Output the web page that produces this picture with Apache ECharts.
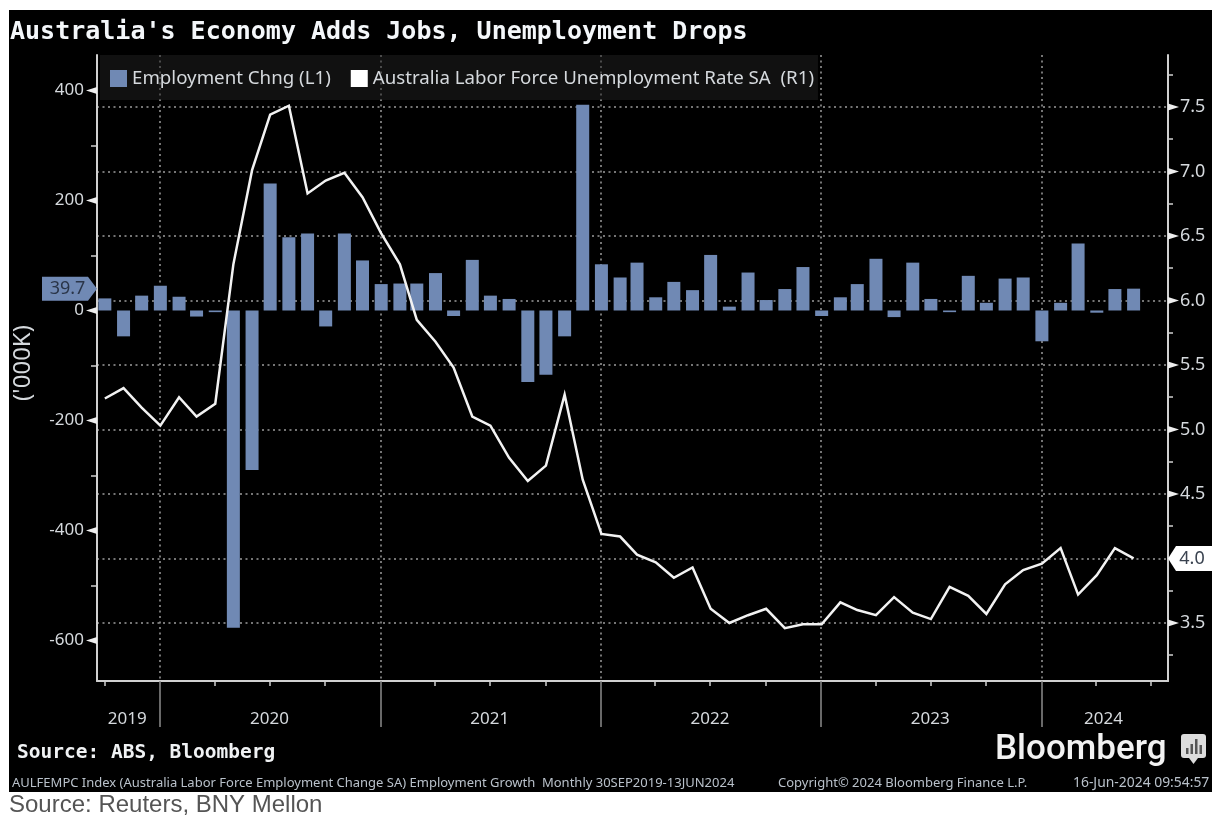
<!DOCTYPE html>
<html>
<head>
<meta charset="utf-8">
<style>html,body{margin:0;padding:0;background:#fff}#chart{width:1212px;height:817px}</style>
<script src="https://cdn.jsdelivr.net/npm/echarts@6/dist/echarts.min.js"></script>
</head>
<body>
<div id="chart"></div>
<script>
// Month-end observation dates, Sep 2019 to May 2024
const months = [
  '2019-09-30','2019-10-31','2019-11-30','2019-12-31',
  '2020-01-31','2020-02-29','2020-03-31','2020-04-30','2020-05-31','2020-06-30','2020-07-31','2020-08-31','2020-09-30','2020-10-31','2020-11-30','2020-12-31',
  '2021-01-31','2021-02-28','2021-03-31','2021-04-30','2021-05-31','2021-06-30','2021-07-31','2021-08-31','2021-09-30','2021-10-31','2021-11-30','2021-12-31',
  '2022-01-31','2022-02-28','2022-03-31','2022-04-30','2022-05-31','2022-06-30','2022-07-31','2022-08-31','2022-09-30','2022-10-31','2022-11-30','2022-12-31',
  '2023-01-31','2023-02-28','2023-03-31','2023-04-30','2023-05-31','2023-06-30','2023-07-31','2023-08-31','2023-09-30','2023-10-31','2023-11-30','2023-12-31',
  '2024-01-31','2024-02-29','2024-03-31','2024-04-30','2024-05-31'
];
// Monthly employment change, thousands
const employmentChange = [
  22,-47,27,45,
  25,-11,-3,-577,-290,231,133,140,-29,140,91,48,
  49,49,68,-10,92,27,21,-130,-117,-47,374,84,
  60,87,24,52,37,101,7,69,19,39,79,-10,
  24,48,94,-12,87,21,-3,63,14,58,60,-56,
  14,122,-4,39,39.7
];
// Unemployment rate, percent
const unemploymentRate = [
  5.24,5.32,5.17,5.03,
  5.25,5.10,5.20,6.28,7.01,7.44,7.51,6.83,6.93,6.99,6.80,6.52,
  6.28,5.85,5.68,5.48,5.10,5.03,4.78,4.60,4.72,5.27,4.61,4.19,
  4.17,4.03,3.97,3.85,3.93,3.61,3.50,3.56,3.61,3.46,3.49,3.49,
  3.66,3.60,3.56,3.70,3.58,3.53,3.78,3.71,3.57,3.80,3.91,3.96,
  4.08,3.72,3.87,4.08,4.00
];

// Axis ranges and ticks
const timeMin = '2019-09-17';
const timeMax = '2024-07-27';
const leftMin = -673.6, leftMax = 464.5;
const rightMin = 3.05, rightMax = 7.903;
const leftMajor = [-600,-400,-200,0,200,400];
const leftMinor = [-500,-300,-100,100,300];
const rightMajor = [3.5,4.0,4.5,5.0,5.5,6.0,6.5,7.0,7.5];
const rightLabels = [3.5,4.5,5.0,5.5,6.0,6.5,7.0,7.5];
const rightMinor = [3.25,3.75,4.25,4.75,5.25,5.75,6.25,6.75,7.25,7.75];
const yearBreaks = ['2019-12-30','2020-12-30','2021-12-30','2022-12-30','2023-12-30'];
const yearLabelDates = ['2019-11-06','2020-06-29','2021-06-29','2022-06-29','2023-06-29','2024-04-11'];
const quarterTicks = [
  '2019-09-30','2020-03-30','2020-06-29','2020-09-29','2021-03-30','2021-06-29','2021-09-29',
  '2022-03-30','2022-06-29','2022-09-29','2023-03-30','2023-06-29','2023-09-29','2024-03-30','2024-06-29'
];

// Text
const barName = 'Employment Chng (L1)';
const lineName = 'Australia Labor Force Unemployment Rate SA  (R1)';

const BAR = '#7089b4', AXIS = '#d0d0d0', LABEL = '#d5d9dd', GRID = '#9c9c9c';
const LABEL_FONT = '"Noto Sans"', FIXED_FONT = '"DejaVu Sans Mono"';

// The horizontal scale is a plain numeric one holding epoch milliseconds
const ts = d => new Date(d + 'T00:00:00Z').getTime();
const lastBar = employmentChange[employmentChange.length - 1];
const lastRate = unemploymentRate[unemploymentRate.length - 1];

function textTitle(text, left, top, style) {
  return { text, left, top, padding: 0, textStyle: style };
}
const footerStyle = { color: '#b9c1ca', fontFamily: LABEL_FONT, fontWeight: 'normal', fontSize: 13, lineHeight: 14 };

const option = {
  animation: false,
  backgroundColor: '#ffffff',
  title: [
    textTitle("Australia's Economy Adds Jobs, Unemployment Drops", 10, 18,
      { color: '#f4f7fa', fontFamily: FIXED_FONT, fontWeight: 'bold', fontSize: 25, lineHeight: 28 }),
    textTitle('Source: ABS, Bloomberg', 17, 742,
      { color: '#f0f2f4', fontFamily: FIXED_FONT, fontWeight: 'bold', fontSize: 19.5, lineHeight: 22 }),
    textTitle('AULFEMPC Index (Australia Labor Force Employment Change SA) Employment Growth  Monthly 30SEP2019-13JUN2024', 12, 776, footerStyle),
    textTitle('Copyright\u00a9 2024 Bloomberg Finance L.P.', 778, 776, footerStyle),
    textTitle('16-Jun-2024 09:54:57', 1073, 776, Object.assign({}, footerStyle, { fontSize: 13.9 })),
    textTitle('Source: Reuters, BNY Mellon', 9, 793,
      { color: '#555555', fontFamily: '"Liberation Sans"', fontWeight: 'normal', fontSize: 24, lineHeight: 25 }),
    textTitle('Bloomberg', 995, 730,
      { color: '#f2f2f2', fontFamily: 'Roboto', fontWeight: 500, fontSize: 35, lineHeight: 40 })
  ],
  graphic: [
    { type: 'rect', z: -10, silent: true, shape: { x: 9, y: 10, width: 1203, height: 782 }, style: { fill: '#000' } },
    { type: 'group', left: 1181, top: 734, z: 5, silent: true, children: [
      { type: 'rect', shape: { x: 0, y: 0, width: 25, height: 24, r: 3 }, style: { fill: '#dcdcdc' } },
      { type: 'polygon', shape: { points: [[8, 24], [17, 24], [12.5, 30]] }, style: { fill: '#dcdcdc' } },
      { type: 'rect', shape: { x: 5, y: 14, width: 2.5, height: 6 }, style: { fill: '#555' } },
      { type: 'rect', shape: { x: 9.5, y: 10, width: 2.5, height: 10 }, style: { fill: '#555' } },
      { type: 'rect', shape: { x: 14, y: 5, width: 2.5, height: 15 }, style: { fill: '#555' } },
      { type: 'rect', shape: { x: 18.5, y: 11, width: 2.5, height: 9 }, style: { fill: '#555' } }
    ] }
  ],
  legend: {
    left: 100, top: 55, padding: [14, 4, 12, 10],
    itemWidth: 17, itemHeight: 17, itemGap: 20,
    backgroundColor: 'rgba(34,34,34,0.5)',
    data: [
      { name: barName, icon: 'rect' },
      { name: lineName, icon: 'rect', itemStyle: { color: '#ffffff' } }
    ],
    textStyle: { color: LABEL, fontFamily: LABEL_FONT, fontSize: 18.7, padding: [0, 0, 0, 0] }
  },
  grid: { left: 97, right: 44, top: 55, bottom: 136, containLabel: false },
  xAxis: [
    {
      // Axis line and quarterly ticks
      type: 'value', min: ts(timeMin), max: ts(timeMax), position: 'bottom',
      axisLine: { show: true, onZero: false, lineStyle: { color: AXIS, width: 2 } },
      axisTick: { show: true, length: 5, lineStyle: { color: AXIS, width: 1.5 }, customValues: quarterTicks.map(ts) },
      axisLabel: { show: false },
      splitLine: { show: false }
    },
    {
      // Year separators, dotted verticals and year labels
      type: 'value', min: ts(timeMin), max: ts(timeMax), position: 'bottom',
      axisLine: { show: false, onZero: false },
      axisTick: { show: true, length: 46, lineStyle: { color: '#8c8c8c', width: 1.5 }, customValues: yearBreaks.map(ts) },
      axisLabel: {
        show: true, margin: 30, color: LABEL, fontFamily: LABEL_FONT, fontSize: 17,
        customValues: yearLabelDates.map(ts), hideOverlap: false,
        formatter: v => String(new Date(v).getUTCFullYear())
      },
      splitLine: { show: true, showMinLine: true, showMaxLine: true, lineStyle: { color: GRID, width: 1.5, type: [2, 3.5] } }
    }
  ],
  yAxis: [
    {
      // Employment change, left scale
      type: 'value', min: leftMin, max: leftMax, position: 'left',
      name: "('000K)", nameLocation: 'middle', nameGap: 62, nameRotate: 90,
      nameTextStyle: { color: LABEL, fontFamily: LABEL_FONT, fontSize: 24, padding: [0, 0, 0, 10] },
      axisLine: { show: true, onZero: false, lineStyle: { color: AXIS, width: 2 } },
      axisTick: { show: true, length: 6, lineStyle: { color: AXIS, width: 1.5 }, customValues: leftMinor },
      axisLabel: { color: LABEL, fontFamily: LABEL_FONT, fontSize: 17, margin: 13, padding: [4, 0, 0, 0], customValues: leftMajor },
      splitLine: { show: false }
    },
    {
      // Unemployment rate, right scale with the dotted horizontals
      type: 'value', min: rightMin, max: rightMax, position: 'right',
      axisLine: { show: true, onZero: false, lineStyle: { color: AXIS, width: 2 } },
      axisTick: { show: false, customValues: rightMajor },
      axisLabel: { color: LABEL, fontFamily: LABEL_FONT, fontSize: 18, margin: 12, padding: [4, 0, 0, 0], customValues: rightLabels, formatter: v => v.toFixed(1) },
      splitLine: { show: true, showMinLine: true, showMaxLine: true, lineStyle: { color: GRID, width: 1.5, type: [2, 3.5] } }
    },
    {
      // Quarter-point ticks on the right scale
      type: 'value', min: rightMin, max: rightMax, position: 'right',
      axisLine: { show: false, onZero: false },
      axisTick: { show: true, length: 5, lineStyle: { color: AXIS, width: 1.5 }, customValues: rightMinor },
      axisLabel: { show: false },
      splitLine: { show: false }
    }
  ],
  series: [
    {
      name: barName, type: 'bar', xAxisIndex: 0, yAxisIndex: 0, barWidth: 13, z: 3,
      itemStyle: { color: BAR },
      data: months.map((m, i) => [ts(m), employmentChange[i]])
    },
    {
      name: lineName, type: 'line', xAxisIndex: 0, yAxisIndex: 1, z: 4,
      showSymbol: false, symbol: 'none',
      lineStyle: { color: '#f2f2f2', width: 2.5, join: 'miter' }, itemStyle: { color: '#ffffff' },
      data: months.map((m, i) => [ts(m), unemploymentRate[i]])
    },
    {
      // Arrow heads on the major ticks of the left scale
      name: 'left-arrows', type: 'scatter', xAxisIndex: 0, yAxisIndex: 0, clip: false, silent: true, z: 6,
      symbol: 'path://M10,0 L0,3 L10,6 Z', symbolSize: [11, 7], symbolOffset: [-5.5, 0],
      itemStyle: { color: '#eeeeee', opacity: 1 },
      data: leftMajor.map(v => [ts(timeMin), v])
    },
    {
      // Arrow heads on the major ticks of the right scale
      name: 'right-arrows', type: 'scatter', xAxisIndex: 0, yAxisIndex: 1, clip: false, silent: true, z: 6,
      symbol: 'path://M0,0 L10,3 L0,6 Z', symbolSize: [11, 7], symbolOffset: [5.5, 0],
      itemStyle: { color: '#eeeeee', opacity: 1 },
      data: rightLabels.map(v => [ts(timeMax), v])
    },
    {
      // Latest employment change flag on the left scale
      name: 'left-flag', type: 'scatter', xAxisIndex: 0, yAxisIndex: 0, clip: false, silent: true, z: 7,
      symbol: 'path://M0,0 L46,0 L55,12 L46,24 L0,24 Z', symbolSize: [55, 24], symbolOffset: [-27.5, 0],
      itemStyle: { color: BAR, opacity: 1 },
      label: {
        show: true, position: 'inside', offset: [-2, 0], color: '#2a3548', fontFamily: LABEL_FONT, fontSize: 18,
        formatter: p => p.value[1].toFixed(1)
      },
      data: [[ts(timeMin), lastBar]]
    },
    {
      // Latest unemployment rate flag on the right scale
      name: 'right-flag', type: 'scatter', xAxisIndex: 0, yAxisIndex: 1, clip: false, silent: true, z: 7,
      symbol: 'path://M8,0 L44,0 L44,25 L8,25 L0,12.5 Z', symbolSize: [44, 25], symbolOffset: [22, 0],
      itemStyle: { color: '#ffffff', opacity: 1 },
      label: {
        show: true, position: 'inside', offset: [2, 0], color: '#3a4350', fontFamily: LABEL_FONT, fontSize: 18,
        formatter: p => p.value[1].toFixed(1)
      },
      data: [[ts(timeMax), lastRate]]
    }
  ]
};

echarts.init(document.getElementById('chart'), null, { renderer: 'canvas' }).setOption(option);
</script>
</body>
</html>
